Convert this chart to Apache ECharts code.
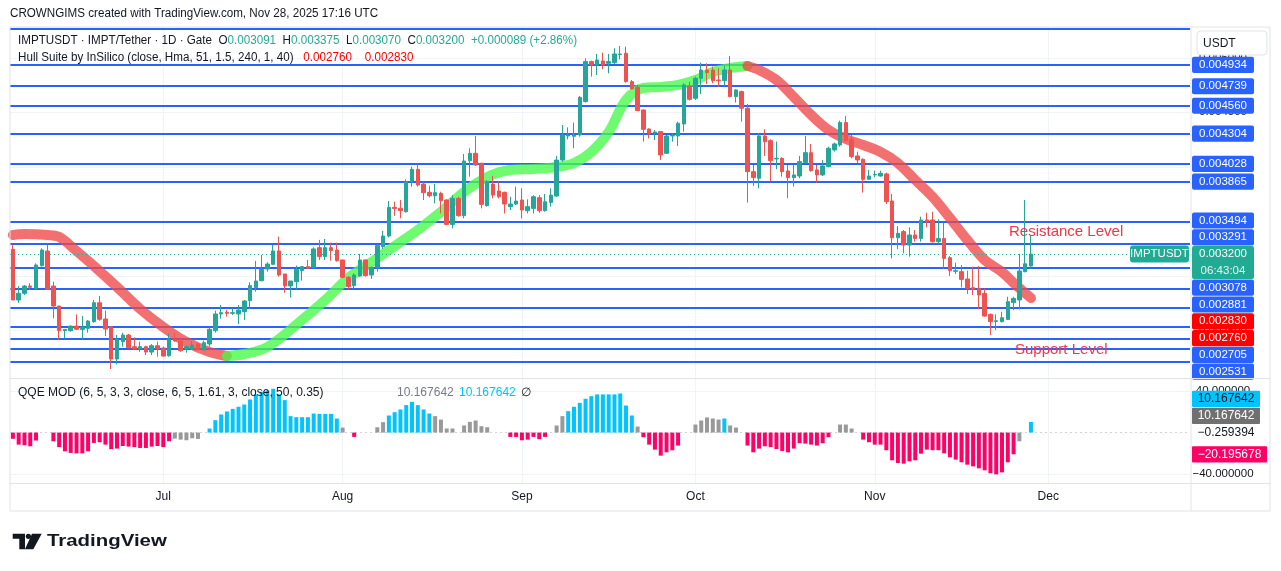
<!DOCTYPE html>
<html>
<head>
<meta charset="utf-8">
<script src="https://cdn.jsdelivr.net/npm/echarts@6/dist/echarts.min.js"></script>
<style>
  html, body { margin: 0; padding: 0; background: #fff; }
  #main { width: 1281px; height: 571px; }
</style>
</head>
<body>
<div id="main"></div>
<script>
// ---- data (prices in 1e-6 USDT), candles as [open, close, low, high] ----
const candlesJun = [ // Jun 5 - Jun 30
  [3244,2779,2779,3289],[2779,2840,2754,2907],[2840,2907,2825,2916],[2907,2895,2871,2932],[2886,3100,2871,3115],
  [3094,3237,3085,3253],[3228,2877,2871,3289],[2907,2724,2611,2947],[2724,2498,2412,2724],[2498,2510,2427,2510],
  [2498,2540,2488,2547],[2540,2510,2504,2647],[2510,2531,2418,2632],[2519,2586,2479,2596],[2580,2754,2571,2779],
  [2754,2602,2589,2816],[2605,2513,2449,2681],[2534,2238,2146,2534],[2238,2418,2189,2458],[2397,2458,2351,2479],
  [2458,2342,2336,2467],[2351,2330,2330,2437],[2330,2351,2305,2397],[2351,2302,2274,2360],[2302,2360,2274,2375],
  [2360,2333,2259,2397]
];
const candlesJul = [
  [2339,2265,2259,2351],[2268,2418,2259,2473],[2412,2403,2397,2479],[2403,2314,2305,2418],[2330,2351,2296,2363],
  [2326,2366,2320,2403],[2375,2330,2314,2388],[2321,2388,2314,2406],[2376,2510,2351,2529],[2498,2651,2480,2681],
  [2651,2663,2608,2733],[2666,2657,2626,2687],[2657,2663,2642,2703],[2651,2687,2559,2733],[2672,2770,2596,2779],
  [2773,2911,2697,2941],[2892,2953,2856,3137],[2956,3060,2950,3192],[3063,3109,3039,3125],[3106,3229,3100,3284],
  [3229,3008,2993,3360],[3018,2908,2846,3018],[2908,2953,2801,2953],[2947,3060,2877,3094],[3048,3085,2957,3091],
  [3085,3070,3063,3146],[3076,3247,3070,3262],[3259,3177,3146,3330],[3177,3259,3146,3339],[3259,3232,3140,3305],
  [3238,3140,3131,3305]
];
const candlesAug = [
  [3146,2987,2978,3146],[2987,2902,2877,2999],[2911,3008,2877,3024],[2999,3146,2993,3201],[3146,3002,2993,3152],
  [3008,3076,2972,3085],[3076,3278,3039,3293],[3268,3366,3247,3412],[3366,3629,3354,3687],[3629,3617,3550,3681],
  [3620,3598,3528,3696],[3589,3864,3580,3885],[3864,3977,3818,4001],[3977,3833,3818,4026],[3842,3763,3696,3864],
  [3766,3735,3720,3827],[3735,3763,3665,3842],[3757,3690,3573,3772],[3696,3472,3466,3702],[3472,3711,3436,3741],
  [3711,3552,3543,3726],[3552,4053,3528,4118],[4056,4124,3910,4170],[4124,4017,4007,4283],[4032,3656,3619,4038],
  [3644,3864,3635,3879],[3842,3741,3711,3916],[3778,3726,3711,3864],[3766,3659,3573,3772],[3635,3659,3604,3726],
  [3659,3686,3650,3818]
];
const candlesSep = [
  [3696,3604,3527,3803],[3598,3635,3573,3702],[3619,3726,3573,3741],[3717,3598,3580,3741],[3598,3680,3589,3751],
  [3674,3741,3635,3803],[3732,4062,3726,4099],[4062,4292,4047,4383],[4283,4292,4252,4362],[4280,4292,4170,4405],
  [4292,4637,4276,4649],[4598,4965,4589,4995],[4965,4934,4827,4974],[4934,4980,4842,5035],[4971,4934,4894,5047],
  [4949,4965,4858,5035],[4955,5035,4943,5087],[5030,5035,4986,5108],[5041,4781,4772,5102],[4781,4714,4711,4796],
  [4729,4515,4512,4751],[4521,4344,4231,4527],[4347,4307,4261,4353],[4310,4319,4246,4338],[4323,4109,4063,4323],
  [4124,4283,4118,4292],[4283,4289,4231,4307],[4283,4399,4191,4414],[4393,4751,4323,4766],[4741,4619,4607,4781]
];
const candlesOct = [
  [4628,4812,4613,4827],[4812,4888,4668,4955],[4888,4864,4760,4949],[4888,4790,4766,4919],[4796,4790,4735,4904],
  [4790,4888,4741,4925],[4888,4644,4638,5017],[4644,4705,4589,4711],[4690,4537,4414,4699],[4537,3956,3672,4577],
  [3956,3901,3825,4017],[3895,4283,3803,4308],[4283,4231,4100,4344],[4240,4057,3864,4253],[4072,4078,3978,4231],
  [4078,3956,3910,4088],[3962,3901,3712,4017],[3901,3926,3819,4017],[3916,4048,3895,4100],[4039,4130,4033,4283],
  [4130,3965,3956,4210],[3972,3926,3855,4017],[3926,4008,3916,4063],[4002,4170,3996,4185],[4155,4210,4140,4222],
  [4201,4406,4185,4424],[4406,4241,4231,4467],[4253,4094,4078,4292],[4100,4063,4033,4140],[4069,3886,3764,4078],
  [3886,3916,3880,3972]
];
const candlesNov = [ // Nov 1 - Nov 28
  [3926,3929,3904,3965],[3916,3941,3910,3965],[3935,3681,3660,3947],[3687,3350,3161,3751],[3350,3390,3244,3457],
  [3406,3283,3207,3421],[3283,3375,3176,3445],[3375,3344,3314,3421],[3344,3513,3314,3543],[3513,3497,3445,3580],
  [3513,3314,3305,3589],[3314,3344,3299,3519],[3344,3161,3069,3488],[3167,3048,2999,3182],[3042,3048,3017,3121],
  [3039,2968,2895,3100],[2972,2886,2834,3048],[2892,2877,2825,3085],[2886,2825,2693,3091],[2840,2632,2626,2886],
  [2647,2580,2458,2657],[2583,2589,2504,2647],[2580,2617,2574,2672],[2601,2764,2595,2809],[2755,2794,2687,2809],
  [2779,3045,2693,3201],[3039,3111,3033,3696],[3091,3200,3070,3375]
];

// horizontal level lines (1e-6 USDT)
const levelPrices = [4934, 4739, 4560, 4304, 4028, 3865, 3494, 3291, 3078, 2881, 2705, 2531, 2420, 2330, 2210];
const topLinePrice = 5270;
const gridPrices = [2500, 3000, 3500, 4000, 4500, 5000];

// Hull Suite band centre, read at some bars (index -> value), last two hull values
const hullIdx = [0, 2, 6, 8, 11, 14, 18, 22, 26, 30, 34, 37, 40, 44, 50, 54, 58, 62, 66, 70, 74, 78, 82, 86, 90, 94, 97,
  100, 103, 106, 109, 112, 115, 118, 121, 124, 127, 129, 132, 135, 138, 141, 144, 147, 150, 153, 156, 159, 162, 165, 168, 171, 173, 176];
const hullVal = [3375, 3384, 3375, 3357, 3228, 3091, 2898, 2697, 2531, 2394, 2302, 2266, 2284, 2348, 2596, 2779, 2981, 3127, 3274, 3421,
  3586, 3769, 3907, 3971, 3980, 3999, 4035, 4136, 4320, 4613, 4723, 4732, 4751, 4796, 4870, 4906, 4925, 4888, 4796, 4641,
  4476, 4338, 4255, 4200, 4136, 4035, 3879, 3724, 3531, 3329, 3146, 3036, 2935, 2797];
const hullTurns = [37, 127];          // falling until 37, rising until 127, falling after
const hullLast = [2760, 2830];

// QQE MOD histogram, one value per bar (null = no bar)
const qqeValues = [
  -6, -11.6, -12.2, -13.2, -7.7, null, null,
  -8.4, -14, -18, -19.6, -20, -20, -18, -10, -9.3, -11.6, -16, -15.4, -12.9, -13.5, -14, -14.8, -14.8, -13.5, -12.9, -14, -8.4,
  -5.8, -6.8, -7.4, -5.5, -6.1, null,
  3.9, 11.9, 17.4, 20.3, 22.8, 24.8, 27, 31.8, 36.7, 39.2, 40.5, 42.1, 36.7, 31.2, 15.8, 14.8, 14.8, 14.8, 18.3, 18, 18, 18, 13.5,
  4.8, null, -4.2, null, null, null,
  5.1, 10, 16.4, 19.6, 22.2, 26.4, 29.6, 26.4, 22.2, 18.3, 15.8, 12.5, 3.9, 3.9, null,
  6.8, 10.3, 11.6, 6.1, 5.1, null, null, null,
  -4.2, -4.2, -7.4, -6.8, -4.2, -6.4, -4.2, null,
  6.8, 15.8, 20.6, 24.8, 28.6, 32.5, 35, 36.7, 36.7, 36.7, 36.7, 37.6, 26, 16.4, 5.8,
  -4.5, -11.6, -16.4, -22.2, -19, -17, -12.5, null, null,
  7.7, 11.6, 14.5, 13.5, 12.5, 13.5, 6.8, 4.8, null,
  -12.5, -19, -15.4, -13.2, -14, -15.8, -17.7, -19, -15.4, -10.3, -10.6, -11.6, -12.5, -10.3, -4.5, null,
  7.7, 7.7, 3.9, null,
  -6.8, -9.3, -11.6, -11.6, -17, -26.7, -29.3, -29.9, -27.7, -26.7, -20.3, -16.4, -17, -17, -20, -23.8, -26, -28.6, -30.9,
  -32.5, -34.4, -36.3, -39.2, -40.2, -38.3, -28.6, -20.9,
  -8.4, null, 10.167642
];
// colour runs: b = blue, g = grey, r = red, - = none
const qqeColorRuns = [['r',5],['-',2],['r',21],['g',5],['-',1],['b',23],['g',1],['-',1],['r',1],['-',3],['g',2],['b',8],
  ['g',4],['-',1],['g',5],['-',3],['r',7],['-',1],['g',2],['b',12],['g',1],['r',7],['-',2],['g',5],['b',1],['g',2],['-',1],
  ['r',15],['-',1],['g',3],['-',1],['r',27],['g',1],['-',1],['b',1]];
const qqeLabels = { up: 10.167642, grey: 10.167642, mid: -0.259394, dn: -20.195678 };

const monthTicks = ['2025-07-01', '2025-08-01', '2025-09-01', '2025-10-01', '2025-11-01', '2025-12-01'];
const monthNames = ['Jul', 'Aug', 'Sep', 'Oct', 'Nov', 'Dec'];

// ---- build ----
const FONT = '"Liberation Sans", Arial, sans-serif';
const UP = '#26a69a', DN = '#ef5350', BLUE = '#2962ff', LAST = '#22ab94', GRIDC = '#f0f3fa', TXT = '#131722';
const QC = { b: '#00c3ff', g: '#999999', r: '#ff0066' };

const dates = [];
const start = Date.UTC(2025, 5, 5);
for (let i = 0; i < 204; i++) dates.push(new Date(start + i * 864e5).toISOString().slice(0, 10));

const ohlc = [].concat(candlesJun, candlesJul, candlesAug, candlesSep, candlesOct, candlesNov);
const candleData = ohlc.map(r => r.map(v => v * 1e-6));

const hullFull = ohlc.map(() => '-');
hullIdx.forEach((ix, k) => { hullFull[ix] = hullVal[k] * 1e-6; });
const hullSeg = (a, b) => hullFull.map((v, i) => (i >= a && i <= b) ? v : '-');

const qqeKinds = [];
qqeColorRuns.forEach(([k, n]) => { for (let j = 0; j < n; j++) qqeKinds.push(k); });
const qqeData = qqeValues.map((v, i) => (v == null || qqeKinds[i] === '-') ? '-' :
  { value: v, itemStyle: { color: QC[qqeKinds[i]] } });

// markLine helper; precision must be high, prices are ~0.00x
const mk = (data, color, width, type, z) => ({
  silent: true, symbol: ['none', 'none'], label: { show: false }, animation: false, z: z, precision: 10,
  lineStyle: { color: color, width: width, type: type, opacity: 1 }, emphasis: { disabled: true }, data: data
});
const vLines = monthTicks.map(d => ({ xAxis: d }));

const hullLine = (data, color) => ({
  type: 'line', xAxisIndex: 0, yAxisIndex: 0, data: data, smooth: 0.35, connectNulls: true,
  showSymbol: false, silent: true, z: 3, lineStyle: { color: color, width: 10, cap: 'round' }
});

const chart = echarts.init(document.getElementById('main'));
chart.setOption({
  animation: false,
  backgroundColor: '#ffffff',
  grid: [
    { left: 10, right: 91, top: 27, height: 351 },
    { left: 10, right: 91, top: 379, height: 104 }
  ],
  xAxis: [
    { type: 'category', gridIndex: 0, data: dates, boundaryGap: true, axisLine: { show: false },
      axisTick: { show: false }, axisLabel: { show: false }, splitLine: { show: false } },
    { type: 'category', gridIndex: 1, data: dates, boundaryGap: true, axisLine: { show: false },
      axisTick: { show: false }, splitLine: { show: false },
      axisLabel: { interval: (i, v) => monthTicks.indexOf(v) >= 0, margin: 8, color: TXT, fontSize: 12, fontFamily: FONT,
        formatter: v => monthNames[monthTicks.indexOf(v)] || '' } }
  ],
  yAxis: [
    { type: 'value', gridIndex: 0, min: 0.002064, max: 0.005282, show: false },
    { type: 'value', gridIndex: 1, min: -48.5, max: 51.5, show: false }
  ],
  series: [
    { type: 'line', xAxisIndex: 0, yAxisIndex: 0, data: [], silent: true, z: 1,
      markLine: mk(vLines.concat(gridPrices.map(p => ({ yAxis: p * 1e-6 }))), GRIDC, 1, 'solid', 1) },
    { type: 'line', xAxisIndex: 0, yAxisIndex: 0, data: [], silent: true, z: 2,
      markLine: mk(levelPrices.concat([topLinePrice]).map(p => ({ yAxis: p * 1e-6 })), BLUE, 2, 'solid', 2) },
    hullLine(hullSeg(0, hullTurns[0]), 'rgba(240,72,72,0.78)'),
    hullLine(hullSeg(hullTurns[0], hullTurns[1]), 'rgba(70,250,70,0.78)'),
    hullLine(hullSeg(hullTurns[1], ohlc.length - 1), 'rgba(240,72,72,0.78)'),
    { type: 'line', xAxisIndex: 0, yAxisIndex: 0, data: [], silent: true, z: 4,
      markLine: mk([{ yAxis: candleData[candleData.length - 1][1] }], LAST, 1, [1, 3], 4) },
    { type: 'candlestick', xAxisIndex: 0, yAxisIndex: 0, data: candleData, barWidth: 4, z: 5, silent: true,
      itemStyle: { color: UP, color0: DN, borderColor: UP, borderColor0: DN, borderWidth: 1 } },
    { type: 'line', xAxisIndex: 1, yAxisIndex: 1, data: [], silent: true, z: 1,
      markLine: mk(vLines.concat([{ yAxis: 40 }, { yAxis: -40 }]), GRIDC, 1, 'solid', 1) },
    { type: 'line', xAxisIndex: 1, yAxisIndex: 1, data: [], silent: true, z: 1,
      markLine: mk([{ yAxis: 0 }], '#d1d4dc', 1, [2, 3], 1) },
    { type: 'bar', xAxisIndex: 1, yAxisIndex: 1, data: qqeData, barWidth: 4, silent: true, z: 3 }
  ]
});

// ---- overlays: price scale labels, legends, annotations ----
const yP = v => chart.convertToPixel({ yAxisIndex: 0 }, v * 1e-6);
const yQ = v => chart.convertToPixel({ yAxisIndex: 1 }, v);
const g = [];
const text = (x, y, s, fill, font, align, z, sx) => g.push({ type: 'text', z: z || 20, silent: true,
  x: x, y: y, scaleX: sx || 1,
  style: { x: 0, y: 0, text: s, fill: fill, font: font, textAlign: align || 'left', textVerticalAlign: 'middle' } });
const rich = (x, y, s, richStyles, sx) => g.push({ type: 'text', z: 26, silent: true, x: x, y: y, scaleX: sx || 1,
  style: { x: 0, y: 0, text: s, textVerticalAlign: 'middle', font: '12px ' + FONT, rich: richStyles } });
const rect = (x, y, w, h, fill, z, r, stroke) => g.push({ type: 'rect', z: z || 20, silent: true,
  shape: { x: x, y: y, width: w, height: h, r: r == null ? 2 : r }, style: { fill: fill, stroke: stroke || null } });

// frame
const F = '#e0e3eb';
rect(10, 27, 1260, 484, 'none', 30, 0, F);
g.push({ type: 'line', z: 30, silent: true, shape: { x1: 1191, y1: 27, x2: 1191, y2: 511 }, style: { stroke: F } });
g.push({ type: 'line', z: 30, silent: true, shape: { x1: 10, y1: 378.5, x2: 1270, y2: 378.5 }, style: { stroke: F } });
g.push({ type: 'line', z: 30, silent: true, shape: { x1: 10, y1: 483.5, x2: 1270, y2: 483.5 }, style: { stroke: F } });

const LF = '11.5px ' + FONT;
// plain axis labels underneath
gridPrices.forEach(p => text(1223, yP(p), (p / 1e6).toFixed(6), TXT, LF, 'center', 21));
text(1223, yQ(40), '40.000000', TXT, LF, 'center', 21);
text(1223, yQ(-40), '\u221240.000000', TXT, LF, 'center', 21);

// stacked price tags
const PITCH = 16.8;
function stack(items, anchor) {
  items.sort((a, b) => a.y - b.y);
  const k = items.indexOf(anchor);
  anchor.cy = anchor.y;
  for (let i = k - 1; i >= 0; i--) { const b = items[i + 1]; items[i].cy = Math.min(items[i].y, b.cy - (b.h + items[i].h) / 2); }
  for (let i = k + 1; i < items.length; i++) { const a = items[i - 1]; items[i].cy = Math.max(items[i].y, a.cy + (a.h + items[i].h) / 2); }
}
const lastC = ohlc[ohlc.length - 1];
const tags = levelPrices.map(p => ({ v: p, y: yP(p), h: PITCH, fill: BLUE }))
  .concat(hullLast.map(p => ({ v: p, y: yP(p), h: PITCH, fill: '#ff0000' })));
const cur = { v: lastC[1], y: yP(lastC[1]) + PITCH / 2, h: 2 * PITCH, fill: LAST, cur: true };
tags.push(cur);
stack(tags, cur);
tags.forEach(t => {
  if (t.cy > 378 || t.cy < 36) return;
  rect(1192, t.cy - t.h / 2 + 0.3, 62, t.h - 0.6, t.fill, 22);
  if (t.cur) {
    text(1223, t.cy - PITCH / 2, (t.v / 1e6).toFixed(6), '#fff', LF, 'center', 23);
    text(1223, t.cy + PITCH / 2, '06:43:04', '#e8f5f3', LF, 'center', 23);
  } else {
    text(1223, t.cy, (t.v / 1e6).toFixed(6), '#fff', LF, 'center', 23);
  }
});
// symbol tag on the last price line
rect(1130, yP(lastC[1]) - 8.5, 59, 17, LAST, 22, 3);
text(1159.5, yP(lastC[1]), 'IMPTUSDT', '#fff', LF, 'center', 23);

// QQE tags
const qt = [
  { s: qqeLabels.up, y: yQ(qqeLabels.up), h: 17, fill: QC.b, fc: TXT, w: 68 },
  { s: qqeLabels.grey, y: yQ(qqeLabels.grey) + 0.01, h: 17, fill: '#707070', fc: '#fff', w: 68 },
  { s: qqeLabels.mid, y: yQ(qqeLabels.mid), h: 17, fill: null, fc: TXT, w: 68 },
  { s: qqeLabels.dn, y: yQ(qqeLabels.dn) + 0.8, h: 17, fill: '#ff0066', fc: '#fff', w: 75 }
];
stack(qt, qt[3]);
qt.forEach(t => {
  const s = (t.s < 0 ? '\u2212' : '') + Math.abs(t.s).toFixed(6);
  if (t.fill) rect(1192, t.cy - 8.2, t.w, 16.4, t.fill, 22, 1);
  text(1192 + t.w / 2, t.cy, s, t.fc, '12px ' + FONT, 'center', 23);
});

// USDT box
rect(1197, 31, 70, 24, '#fff', 24, 4, F);
text(1203, 43.5, 'USDT', TXT, '12px ' + FONT, 'left', 25);

// header
text(10, 14, 'CROWNGIMS created with TradingView.com, Nov 28, 2025 17:16 UTC', TXT, '12px ' + FONT, 'left', 26, 0.97);
const f6 = v => (v / 1e6).toFixed(6);
const prevC = ohlc[ohlc.length - 2][1];
const chg = lastC[1] - prevC;
const RK = { fill: TXT, font: '12px ' + FONT };
rich(18, 41, '{k|IMPTUSDT · IMPT/Tether · 1D · Gate  O}{v|' + f6(lastC[0]) + '}{k|  H}{v|' + f6(lastC[3]) +
  '}{k|  L}{v|' + f6(lastC[2]) + '}{k|  C}{v|' + f6(lastC[1]) + '}{v|  +' + f6(chg) +
  ' (+' + (chg / prevC * 100).toFixed(2) + '%)}', { k: RK, v: { fill: LAST, font: '12px ' + FONT } }, 0.97);
rich(18, 58, '{k|Hull Suite by InSilico (close, Hma, 51, 1.5, 240, 1, 40)   }{r|' + f6(hullLast[0]) +
  '    ' + f6(hullLast[1]) + '}', { k: RK, r: { fill: '#ff0000', font: '12px ' + FONT } }, 0.97);
text(18, 393, 'QQE MOD (6, 5, 3, 3, close, 6, 5, 1.61, 3, close, 50, 0.35)', TXT, '12px ' + FONT, 'left', 26);
text(397, 393, qqeLabels.grey.toFixed(6), '#787b86', '12px ' + FONT, 'left', 26);
text(459, 393, qqeLabels.up.toFixed(6), QC.b, '12px ' + FONT, 'left', 26);
text(521, 393, '\u2205', TXT, '12px ' + FONT, 'left', 26);

// annotations
text(1009, 232, 'Resistance Level', '#f23645', '15px ' + FONT, 'left', 26);
text(1015, 350, 'Support Level', '#f23645', '15px ' + FONT, 'left', 26);

// TradingView logo
g.push({ type: 'polygon', z: 26, silent: true,
  shape: { points: [[12.7, 533.7], [25, 533.7], [25, 549.3], [19.3, 549.3], [19.3, 538.7], [12.7, 538.7]] }, style: { fill: TXT } });
g.push({ type: 'circle', z: 26, silent: true, shape: { cx: 28.4, cy: 536.3, r: 2.6 }, style: { fill: TXT } });
g.push({ type: 'polygon', z: 26, silent: true,
  shape: { points: [[32, 533.7], [41.7, 533.7], [33.3, 549.3], [25, 549.3]] }, style: { fill: TXT } });
text(47, 541, 'TradingView', TXT, 'bold 17px ' + FONT, 'left', 26, 1.2);

chart.setOption({ graphic: g });
</script>
</body>
</html>
